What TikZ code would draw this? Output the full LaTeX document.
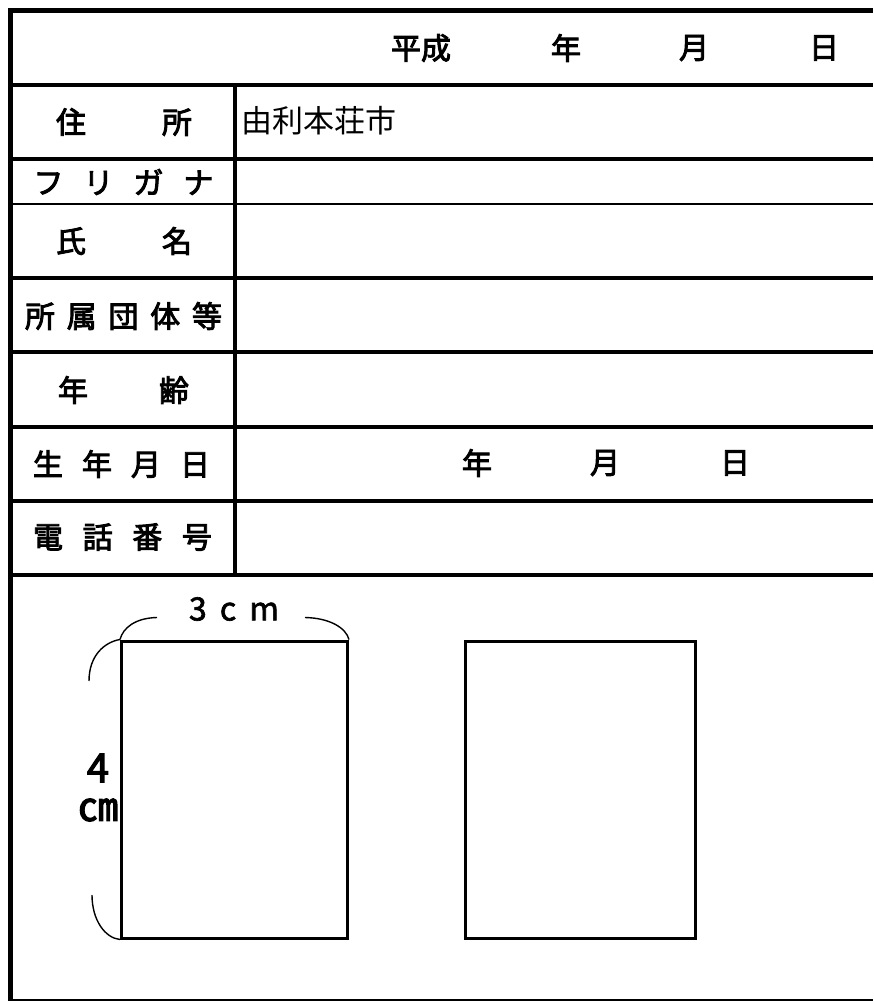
\documentclass[tikz,border=0pt]{standalone}
\usepackage{fontspec}
\newfontfamily\jp{Noto Sans CJK JP}
\newfontfamily\jpm{Noto Sans CJK JP}[FakeBold=3]
\newfontfamily\jpl{Noto Sans CJK JP}[FakeBold=2]
\begin{document}
\begin{tikzpicture}[x=1pt,y=-1pt,
  lab/.style={font=\jpm\fontsize{30pt}{30pt}\selectfont, inner sep=0pt, anchor=center},
  val/.style={font=\jp\fontsize{31pt}{31pt}\selectfont, inner sep=0pt},
  dat/.style={font=\jpm\fontsize{30pt}{30pt}\selectfont, inner sep=0pt, anchor=center},
  dim/.style={font=\jpl\fontsize{32pt}{32pt}\selectfont, inner sep=0pt, anchor=center},
  big/.style={font=\jpm\fontsize{40pt}{40pt}\selectfont, inner sep=0pt},
  border/.style={line width=5pt},
  rule/.style={line width=3.5pt},
  thinrule/.style={line width=2pt},
  photo/.style={draw, line width=3pt},
  brace/.style={line width=1.4pt}]
\useasboundingbox (0,0) rectangle (873,1001);
% frame
\draw[border] (8,10.5) -- (873,10.5);
\draw[border] (10.5,8) -- (10.5,1001);
\draw[thinrule] (10.5,999.5) -- (873,999.5);
% rows
\foreach \yy in {85,159,278,352,427,501,575} \draw[rule] (10.5,\yy) -- (873,\yy);
\draw[thinrule] (10.5,204) -- (873,204);
\draw[rule] (235,85) -- (235,575);
% header
\node[dat] (hs) at (421,48) {平成};
\node[dat] (hy) at (566,48) {年};
\node[dat] (hm) at (694,48) {月};
\node[dat] (hd) at (824,48) {日};
% labels
\node[lab] (l1) at (124,122) {\makebox[136pt][s]{住\hfill 所}};
\node[lab] (l2) at (123.5,182) {\makebox[180pt][s]{フ\hfill リ\hfill ガ\hfill ナ}};
\node[lab] (l3) at (124,241) {\makebox[136pt][s]{氏\hfill 名}};
\node[lab] (l4) at (123.5,316) {\makebox[197pt][s]{所\hfill 属\hfill 団\hfill 体\hfill 等}};
\node[lab] (l5) at (123.5,390) {\makebox[131pt][s]{年\hfill 齢}};
\node[lab] (l6) at (121.5,464) {\makebox[177pt][s]{生\hfill 年\hfill 月\hfill 日}};
\node[lab] (l7) at (122.5,537) {\makebox[179pt][s]{電\hfill 話\hfill 番\hfill 号}};
% values
\node[val, anchor=west] (addr) at (241,121) {由利本荘市};
\node[dat] (by) at (477,463) {年};
\node[dat] (bm) at (605,463) {月};
\node[dat] (bd) at (735,463) {日};
% photo boxes
\node[photo, minimum width=226pt, minimum height=297pt, inner sep=0pt] (p1) at (234.5,789.5) {};
\node[photo, minimum width=230.5pt, minimum height=297pt, inner sep=0pt] (p2) at (580.25,789.5) {};
% dimensions
\node[dim] (w) at (234,609) {\makebox[90pt][s]{3\hfill c\hfill m}};
\node[big] (h4) at (98,768) {4};
\node[big] (hcm) at (98,810) {㎝};
\draw[brace] (p1.north west) .. controls (123,628) and (135,618) .. (157,617.5);
\draw[brace] (305,617.5) .. controls (330,618) and (346,628) .. (p1.north east);
\draw[brace] (p1.north west) .. controls (105,642) and (89,655) .. (89,681);
\draw[brace] (92,895) .. controls (92,920) and (105,938) .. (p1.south west);
\end{tikzpicture}
\end{document}
